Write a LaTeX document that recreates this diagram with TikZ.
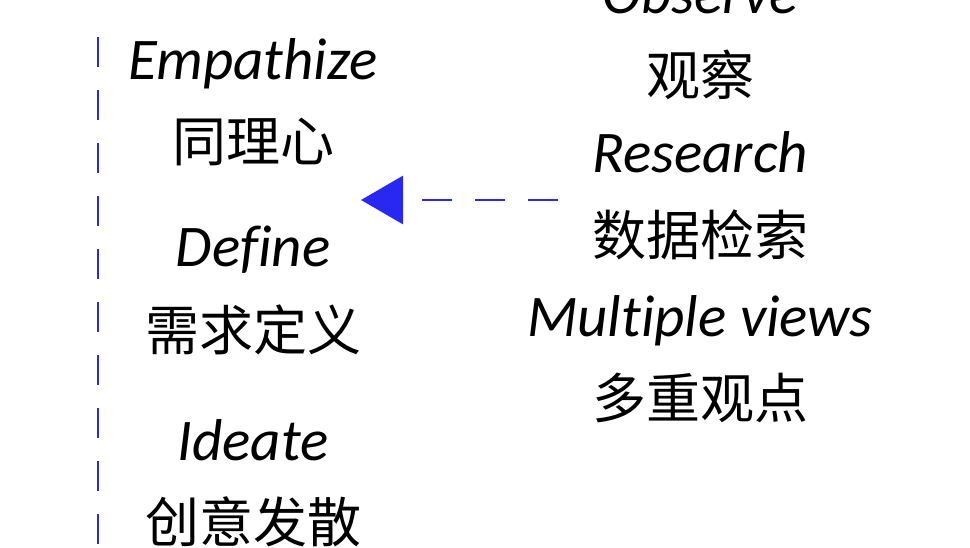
\documentclass[tikz,border=0pt]{standalone}
\usepackage{fontspec}
\setmainfont{Carlito}[Ligatures={NoCommon}]
\newfontfamily\cjk{Noto Sans CJK SC}
\usetikzlibrary{arrows.meta}

\definecolor{dashblue}{RGB}{40,40,240}

\tikzset{
    enword/.style={anchor=base, inner sep=0pt, font=\fontsize{59}{60}\selectfont\itshape},
    cnword/.style={anchor=base, inner sep=0pt, font=\fontsize{54}{60}\selectfont\cjk},
    blueline/.style={dashblue, line width=2.8pt, dash pattern=on 30pt off 23pt}
}

\begin{document}
\begin{tikzpicture}[x=1pt, y=-1pt]
    \useasboundingbox (0,0) rectangle (970,548);

    % Left column
    \node[enword] (empathize) at (253,80) {Empathize};
    \node[cnword] (empathizecn) at (253,161.5) {同理心};
    \node[enword] (define) at (253,266.7) {Define};
    \node[cnword] (definecn) at (253,351) {需求定义};
    \node[enword] (ideate) at (253,460) {Ideate};
    \node[cnword] (ideatecn) at (253,542) {创意发散};

    % Right column
    \node[enword] (observe) at (700,14) {Observe};
    \node[cnword] (observecn) at (700,96) {观察};
    \node[enword] (research) at (700,172.7) {Research};
    \node[cnword] (researchcn) at (700,256) {数据检索};
    \node[enword] (views) at (700,337) {Multiple views};
    \node[cnword] (viewscn) at (700,418) {多重观点};

    % Divider and arrow
    \coordinate (divtop) at (98,37);
    \coordinate (divbot) at (98,560);
    \draw[blueline] (divtop) -- (divbot);

    \coordinate (arrstart) at (558,200);
    \coordinate (arrtip) at (361,200);
    \draw[blueline, -{Triangle[length=42pt, width=48pt]}] (arrstart) -- (arrtip);
\end{tikzpicture}
\end{document}
